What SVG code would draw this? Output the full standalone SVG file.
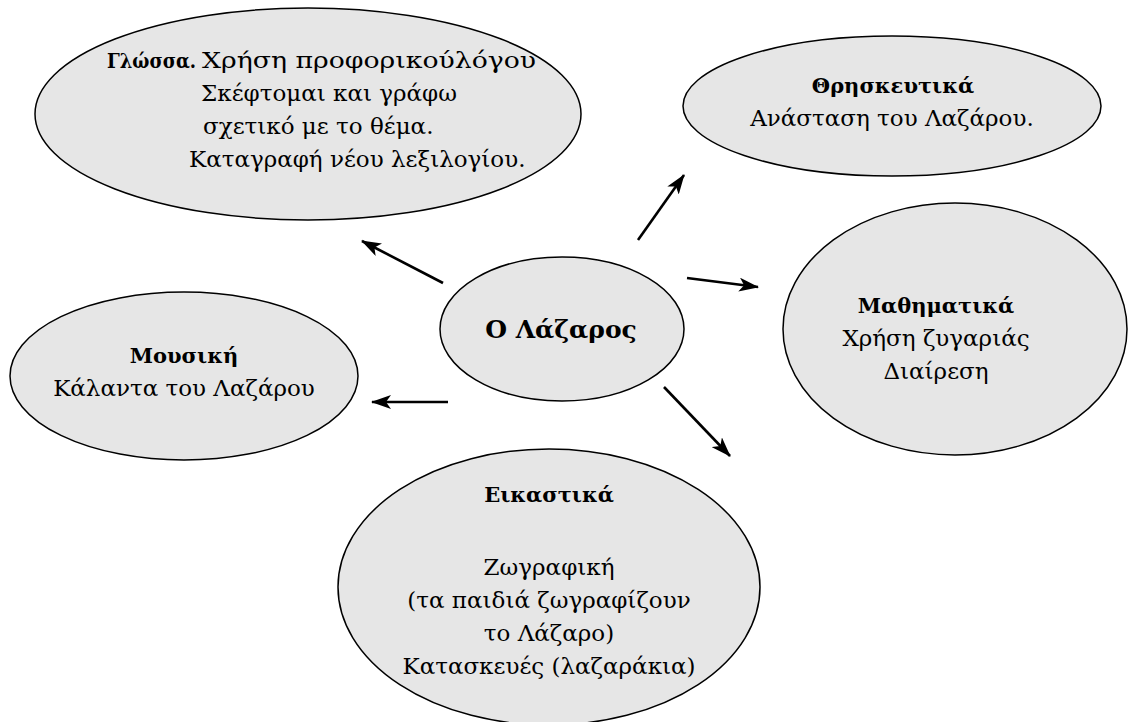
<svg xmlns="http://www.w3.org/2000/svg" width="1128" height="722" viewBox="0 0 1128 722">
<style>
.n{fill:#e6e6e6;stroke:#000;stroke-width:1.5}
text{font-family:"DejaVu Serif","Liberation Serif",serif;font-size:23px;fill:#000;text-anchor:middle}
.s{text-anchor:start}
.b{font-weight:bold;font-size:21px}
.c line{stroke:#000;stroke-width:2.6}
</style>
<defs>
<marker id="ah" viewBox="0 0 20 14" refX="19" refY="7" markerWidth="20" markerHeight="14" markerUnits="userSpaceOnUse" orient="auto">
<path d="M0,0 L20,7 L0,14 L5,7 Z" fill="#000"/>
</marker>
</defs>
<rect width="1128" height="722" fill="#fff"/>
<g id="glossa">
<ellipse class="n" cx="308" cy="114" rx="273" ry="106"/>
<text class="s" x="107" y="68"><tspan class="b" textLength="89" lengthAdjust="spacingAndGlyphs">Γλώσσα.</tspan><tspan x="202" textLength="334" lengthAdjust="spacingAndGlyphs">Χρήση προφορικούλόγου</tspan></text>
<text class="s" x="201" y="101">Σκέφτομαι και γράφω</text>
<text class="s" x="203" y="134">σχετικό με το θέμα.</text>
<text class="s" x="189" y="167">Καταγραφή νέου λεξιλογίου.</text>
</g>
<g id="thriskeftika">
<ellipse class="n" cx="892" cy="106" rx="209" ry="70"/>
<text class="b" x="893" y="93">Θρησκευτικά</text>
<text x="892" y="126">Ανάσταση του Λαζάρου.</text>
</g>
<g id="lazaros">
<ellipse class="n" cx="562" cy="329" rx="122" ry="72"/>
<text class="b" x="561" y="338" style="font-size:25px">Ο Λάζαρος</text>
</g>
<g id="mathimatika">
<ellipse class="n" cx="955" cy="329" rx="172" ry="126"/>
<text class="b" x="936" y="313">Μαθηματικά</text>
<text x="936" y="346">Χρήση ζυγαριάς</text>
<text x="936" y="379">Διαίρεση</text>
</g>
<g id="mousiki">
<ellipse class="n" cx="184" cy="376" rx="174" ry="84"/>
<text class="b" x="184" y="363">Μουσική</text>
<text x="184" y="396">Κάλαντα του Λαζάρου</text>
</g>
<g id="eikastika">
<ellipse class="n" cx="549" cy="587" rx="211" ry="138"/>
<text class="b" x="549" y="502">Εικαστικά</text>
<text x="549" y="575">Ζωγραφική</text>
<text x="549" y="608">(τα παιδιά ζωγραφίζουν</text>
<text x="549" y="641">το Λάζαρο)</text>
<text x="549" y="674">Κατασκευές (λαζαράκια)</text>
</g>
<g class="c" id="connectors">
<line x1="443" y1="283" x2="362" y2="241" marker-end="url(#ah)"/>
<line x1="638" y1="240" x2="684" y2="175" marker-end="url(#ah)"/>
<line x1="687" y1="278" x2="758" y2="287" marker-end="url(#ah)"/>
<line x1="448" y1="402" x2="372" y2="402" marker-end="url(#ah)"/>
<line x1="664" y1="387" x2="730" y2="456" marker-end="url(#ah)"/>
</g>
</svg>
